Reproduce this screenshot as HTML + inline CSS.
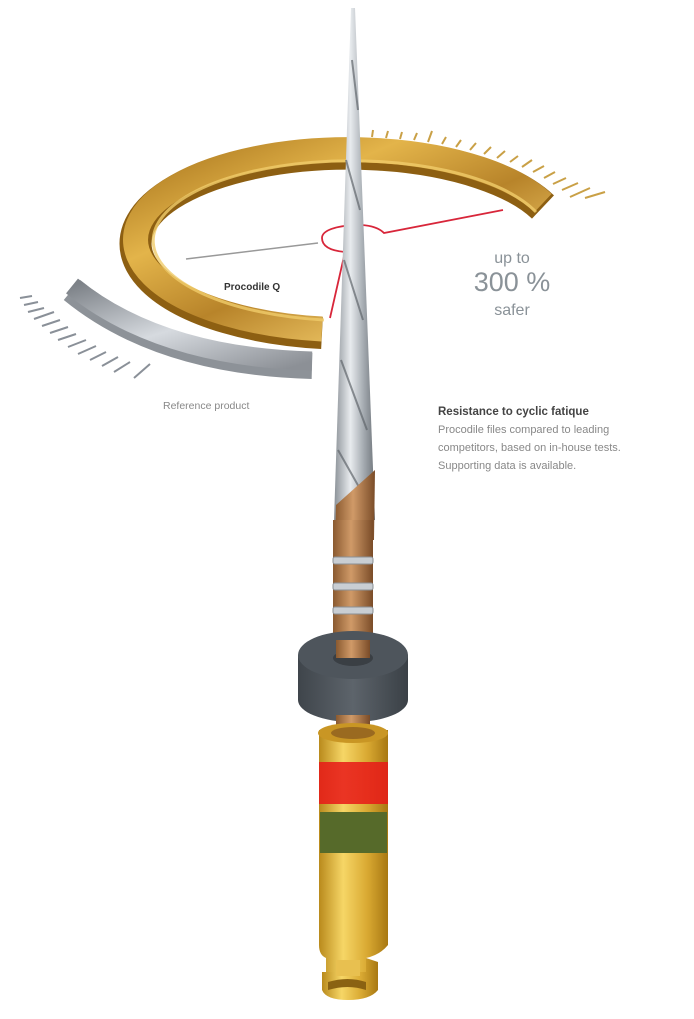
<!DOCTYPE html>
<html><head><meta charset="utf-8"><style>
html,body{margin:0;padding:0;background:#fff;}
svg{display:block;}
text{font-family:"Liberation Sans",sans-serif;}
</style></head><body>
<svg width="694" height="1019" viewBox="0 0 694 1019" xmlns="http://www.w3.org/2000/svg">
<defs>
<linearGradient id="gold" x1="0" y1="0" x2="1" y2="1">
<stop offset="0" stop-color="#a8741c"/><stop offset="0.3" stop-color="#e3b44a"/><stop offset="0.55" stop-color="#b8842a"/><stop offset="0.8" stop-color="#e9c060"/><stop offset="1" stop-color="#9a6a18"/></linearGradient>
<linearGradient id="silv" x1="0" y1="0" x2="1" y2="1">
<stop offset="0" stop-color="#7d8288"/><stop offset="0.5" stop-color="#d6dadf"/><stop offset="1" stop-color="#8c9096"/></linearGradient>
<linearGradient id="needle" x1="0" x2="1">
<stop offset="0" stop-color="#8a9096"/><stop offset="0.4" stop-color="#e8ebee"/><stop offset="0.7" stop-color="#a9afb5"/><stop offset="1" stop-color="#6f757b"/></linearGradient>
<linearGradient id="cop" x1="0" x2="1">
<stop offset="0" stop-color="#8a5a30"/><stop offset="0.45" stop-color="#d09a68"/><stop offset="1" stop-color="#7a4c28"/></linearGradient>
<linearGradient id="hg" x1="0" x2="1">
<stop offset="0" stop-color="#b98a1c"/><stop offset="0.35" stop-color="#f6d666"/><stop offset="0.7" stop-color="#d9a932"/><stop offset="1" stop-color="#a87812"/></linearGradient>
<linearGradient id="stop" x1="0" x2="1">
<stop offset="0" stop-color="#3f454b"/><stop offset="0.5" stop-color="#5d646b"/><stop offset="1" stop-color="#3a4046"/></linearGradient>
</defs>

<!-- gold ticks -->
<g stroke="#c9a046" stroke-width="2">
<line x1="372" y1="137" x2="373" y2="130"/><line x1="386" y1="138" x2="388" y2="131"/>
<line x1="400" y1="139" x2="402" y2="132"/><line x1="414" y1="140" x2="417" y2="133"/>
<line x1="428" y1="142" x2="432" y2="131"/><line x1="442" y1="144" x2="446" y2="137"/>
<line x1="456" y1="147" x2="461" y2="140"/><line x1="470" y1="150" x2="476" y2="143"/>
<line x1="484" y1="154" x2="491" y2="147"/><line x1="497" y1="158" x2="505" y2="151"/>
<line x1="510" y1="162" x2="518" y2="156"/><line x1="522" y1="167" x2="532" y2="160"/>
<line x1="533" y1="172" x2="544" y2="166"/><line x1="544" y1="178" x2="555" y2="172"/>
<line x1="553" y1="184" x2="566" y2="178"/><line x1="562" y1="190" x2="578" y2="183"/>
<line x1="570" y1="197" x2="590" y2="188"/><line x1="585" y1="198" x2="605" y2="192"/>
</g>
<!-- gray ticks -->
<g stroke="#8a9098" stroke-width="2">
<line x1="20" y1="298" x2="32" y2="296"/><line x1="24" y1="305" x2="38" y2="302"/>
<line x1="28" y1="312" x2="44" y2="308"/><line x1="34" y1="319" x2="54" y2="312"/>
<line x1="42" y1="326" x2="60" y2="320"/><line x1="50" y1="333" x2="68" y2="327"/>
<line x1="58" y1="340" x2="76" y2="334"/><line x1="68" y1="347" x2="86" y2="340"/>
<line x1="78" y1="354" x2="96" y2="346"/><line x1="90" y1="360" x2="106" y2="352"/>
<line x1="102" y1="366" x2="118" y2="357"/><line x1="114" y1="372" x2="130" y2="362"/>
<line x1="134" y1="378" x2="150" y2="364"/>
</g>

<!-- silver arc -->
<path d="M 72 290 Q 160 362 312 366" fill="none" stroke="#8d9298" stroke-width="26"/>
<path d="M 72 286 Q 160 357 312 361" fill="none" stroke="url(#silv)" stroke-width="19"/>

<!-- gold ring -->
<path d="M 543 207 A 213 90 0 1 0 322 333" fill="none" stroke="#8d5f12" stroke-width="32"/>
<path d="M 543 203 A 213 90 0 1 0 322 329" fill="none" stroke="url(#gold)" stroke-width="25"/>
<path d="M 536 212 A 198 80 0 1 0 324 320" fill="none" stroke="#f0cc6a" stroke-width="3" opacity="0.8"/>

<!-- gray line -->
<line x1="186" y1="259" x2="318" y2="243" stroke="#999" stroke-width="1.5"/>
<!-- red lines -->
<path d="M 503 210 L 384 233 Q 375 224 352 225 Q 322 228 322 238 Q 322 250 345 252 L 330 318" fill="none" stroke="#d8263a" stroke-width="1.8"/>

<!-- needle blade -->
<path d="M 351 8 L 355 8 L 375 520 L 334 520 Z" fill="url(#needle)"/>
<path d="M 352 60 L 358 110 M 346 160 L 360 210 M 344 260 L 363 320 M 341 360 L 367 430 M 338 450 L 372 510" stroke="#5f656b" stroke-width="2" fill="none" opacity="0.7"/>
<path d="M 336 505 L 375 470 L 374 540 L 335 540 Z" fill="url(#cop)"/>
<!-- copper shank -->
<rect x="333" y="520" width="40" height="120" fill="url(#cop)"/>
<g fill="#c9ced3" stroke="#8a9096" stroke-width="1">
<rect x="333" y="557" width="40" height="7" rx="2"/>
<rect x="333" y="583" width="40" height="7" rx="2"/>
<rect x="333" y="607" width="40" height="7" rx="2"/>
</g>
<!-- stopper -->
<path d="M 298 655 L 298 700 A 55 22 0 0 0 408 700 L 408 655 Z" fill="url(#stop)"/>
<ellipse cx="353" cy="655" rx="55" ry="24" fill="#4e555c"/>
<ellipse cx="353" cy="658" rx="20" ry="8" fill="#3a3f44"/>
<rect x="336" y="640" width="34" height="18" fill="url(#cop)"/>
<!-- handle -->
<rect x="336" y="715" width="34" height="20" fill="url(#cop)"/>
<path d="M 319 730 L 388 730 L 388 945 Q 380 955 366 958 L 366 975 L 326 975 L 326 958 Q 319 955 319 945 Z" fill="url(#hg)"/>
<ellipse cx="353" cy="733" rx="35" ry="10" fill="#c99624"/>
<ellipse cx="353" cy="733" rx="22" ry="6" fill="#9a6a20"/>
<rect x="319" y="762" width="69" height="42" fill="#e81818"/>
<rect x="319" y="762" width="69" height="42" fill="url(#hg)" opacity="0.15"/>
<rect x="320" y="812" width="67" height="41" fill="#566a2a"/>
<path d="M 366 958 L 378 962 L 378 990 Q 370 1000 348 1000 Q 326 1000 322 990 L 322 972 L 366 972 Z" fill="url(#hg)"/>
<path d="M 328 982 Q 348 976 366 982 L 366 990 Q 348 984 328 990 Z" fill="#8a6212"/>
<rect x="336" y="960" width="24" height="16" fill="#e8c050"/>

<!-- texts -->
<text x="224" y="290" font-size="10" font-weight="bold" fill="#333">Procodile Q</text>
<text x="163" y="409" font-size="10.5" fill="#888">Reference product</text>
<text x="512" y="263" font-size="16" fill="#8a9298" text-anchor="middle">up to</text>
<text x="512" y="291" font-size="27" fill="#8a9298" text-anchor="middle">300 %</text>
<text x="512" y="315" font-size="16" fill="#8a9298" text-anchor="middle">safer</text>
<text x="438" y="415" font-size="11.5" font-weight="bold" fill="#444">Resistance to cyclic fatique</text>
<text x="438" y="433" font-size="11" fill="#888">Procodile files compared to leading</text>
<text x="438" y="451" font-size="11" fill="#888">competitors, based on in-house tests.</text>
<text x="438" y="469" font-size="11" fill="#888">Supporting data is available.</text>
</svg>
</body></html>
